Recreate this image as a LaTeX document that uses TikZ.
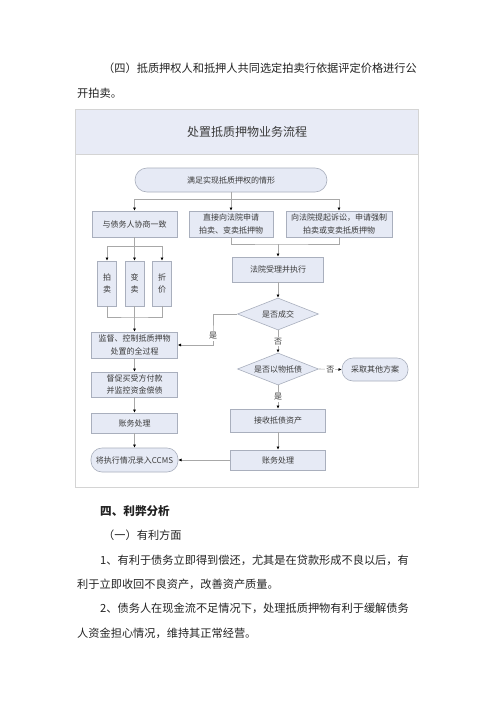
\documentclass[tikz,border=0pt]{standalone}
\usepackage{fontspec}
\setmainfont{Noto Sans CJK SC}
\usepackage{tikz}
\usetikzlibrary{shapes.geometric, arrows.meta}
\usepackage{xcolor}
\definecolor{boxfill}{HTML}{E6EAF5}
\definecolor{boxdraw}{HTML}{A9AFBD}
\definecolor{bandfill}{HTML}{E8EBF6}
\definecolor{framec}{HTML}{D4D4D4}
\definecolor{linec}{HTML}{A8A8A8}
\definecolor{textc}{HTML}{3A3A3A}
\definecolor{bodyc}{HTML}{222222}
\XeTeXlinebreaklocale "zh"
\XeTeXlinebreakskip=0pt plus 1pt

\begin{document}
\begin{tikzpicture}[x=1pt, y=-1pt,
            every node/.style={inner sep=0pt, align=center, text=textc,
                font=\fontsize{8}{12.5}\selectfont},
            box/.style={draw=boxdraw, fill=boxfill, line width=0.6pt},
            rbox/.style={box, rounded corners=11pt},
            decision/.style={box, diamond, aspect=2.5},
            conn/.style={draw=linec, line width=0.6pt},
            arr/.style={conn, -{Latex[length=3.2pt, width=3pt, color=black]}},
            lbl/.style={fill=white, inner sep=1pt},
            body/.style={anchor=west, text=bodyc, font=\fontsize{11.2}{14}\selectfont}]
            \useasboundingbox (0,0) rectangle (500,707);

            \node[body] (p1) at (103,68) {\makebox[320pt][s]{（四）抵质押权人和抵押人共同选定拍卖行依据评定价格进行公}};
            \node[body] (p2) at (77,93) {开拍卖。};

            \fill[white] (75.7,109) rectangle (418.7,487);
            \fill[bandfill] (75.7,109) rectangle (418.7,154);
            \draw[framec, line width=0.4pt] (75.7,154) -- (418.7,154);
            \draw[framec, line width=1pt] (75.7,109) rectangle (418.7,487);
            \node[font=\fontsize{12}{14}\selectfont] (title) at (247,132) {处置抵质押物业务流程};

            \node[rbox, minimum width=192, minimum height=24, rounded corners=12pt] (start) at (231,180) {满足实现抵质押权的情形};
            \node[box, minimum width=85, minimum height=26] (nego) at (134.5,224) {与债务人协商一致};
            \node[box, minimum width=84, minimum height=26] (apply) at (231,224) {直接向法院申请\\拍卖、变卖抵押物};
            \node[box, minimum width=106, minimum height=26] (sue) at (339,224) {向法院提起诉讼，申请强制\\拍卖或变卖抵质押物};
            \node[box, minimum width=91, minimum height=25] (court) at (278,269.5) {法院受理并执行};
            \node[box, minimum width=19, minimum height=45] (auction) at (107,283.5) {拍\\卖};
            \node[box, minimum width=19, minimum height=45] (sell) at (134.5,283.5) {变\\卖};
            \node[box, minimum width=19, minimum height=45] (price) at (162,283.5) {折\\价};
            \node[box, minimum width=86, minimum height=26] (watch) at (134.5,345) {监督、控制抵质押物\\处置的全过程};
            \node[box, minimum width=86, minimum height=25] (urge) at (134.5,384.5) {督促买受方付款\\并监控资金偿债};
            \node[box, minimum width=86, minimum height=20] (accl) at (134.5,423) {账务处理};
            \node[rbox, minimum width=87, minimum height=24] (ccms) at (134.5,460) {将执行情况录入CCMS};
            \node[decision, minimum width=81, minimum height=32] (deal) at (278,314) {是否成交};
            \node[decision, minimum width=81, minimum height=32] (offset) at (278,369) {是否以物抵债};
            \node[rbox, minimum width=66, minimum height=23] (other) at (375,369.5) {采取其他方案};
            \node[box, minimum width=95, minimum height=23] (recv) at (278,420.5) {接收抵债资产};
            \node[box, minimum width=95, minimum height=20] (accr) at (278,460) {账务处理};

            \coordinate (sj) at (231,199);
            \coordinate (cj) at (278,244);
            \coordinate (lj) at (134.5,246);
            \coordinate (mj) at (134.5,317);
            \coordinate (yes) at (213,336);

            \draw[conn] (start.south) -- (sj);
            \draw[arr] (sj) -| (nego.north);
            \draw[arr] (sj) -- (apply.north);
            \draw[arr] (sj) -| (sue.north);
            \draw[conn] (apply.south) |- (cj) -| (sue.south);
            \draw[arr] (cj) -- (court.north);
            \draw[arr] (court.south) -- (deal.north);
            \draw[conn] (nego.south) -- (lj);
            \draw[arr] (lj) -| (auction.north);
            \draw[arr] (lj) -- (sell.north);
            \draw[arr] (lj) -| (price.north);
            \draw[conn] (auction.south) |- (mj) -| (price.south);
            \draw[conn] (sell.south) -- (mj);
            \draw[arr] (mj) -- (watch.north);
            \draw[arr] (deal.west) -| (yes) |- (watch.east);
            \node[lbl] (yeslbl) at (yes) {是};
            \draw[arr] (deal.south) -- node[lbl] (nolbl) {否} (offset.north);
            \draw[arr] (offset.east) -- node[lbl] (nolbl2) {否} (other.west);
            \draw[arr] (offset.south) -- node[lbl] (yeslbl2) {是} (recv.north);
            \draw[arr] (recv.south) -- (accr.north);
            \draw[arr] (accr.west) -- (ccms.east);
            \draw[arr] (watch.south) -- (urge.north);
            \draw[arr] (urge.south) -- (accl.north);
            \draw[arr] (accl.south) -- (ccms.north);

            \node[body, font=\fontsize{11.6}{14}\selectfont\bfseries] (h4) at (100,511) {四、利弊分析};
            \node[body] (h41) at (103,535) {（一）有利方面};
            \node[body] (q1) at (100,560) {\makebox[323pt][s]{1、有利于债务立即得到偿还，尤其是在贷款形成不良以后，有}};
            \node[body] (q2) at (77,584) {利于立即收回不良资产，改善资产质量。};
            \node[body] (q3) at (100,608) {\makebox[323pt][s]{2、债务人在现金流不足情况下，处理抵质押物有利于缓解债务}};
            \node[body] (q4) at (77,633) {人资金担心情况，维持其正常经营。};
\end{tikzpicture}
\end{document}
